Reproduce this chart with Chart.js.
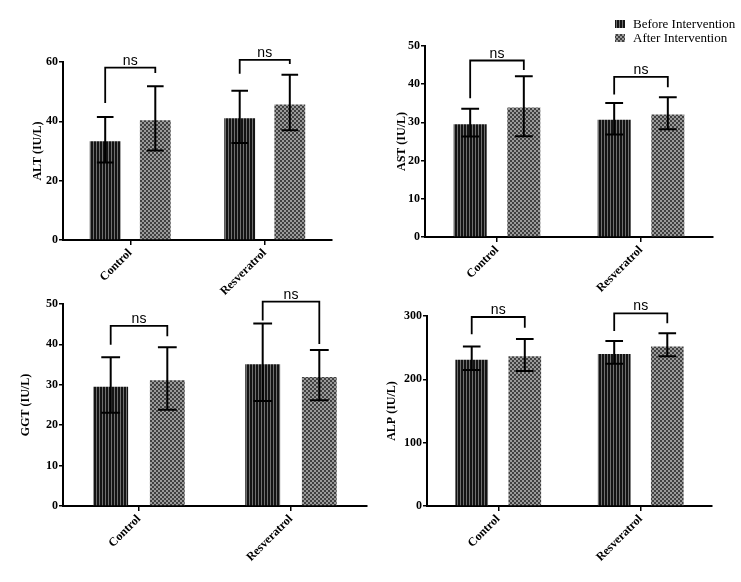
<!DOCTYPE html>
<html><head><meta charset="utf-8">
<script src="https://cdn.jsdelivr.net/npm/chart.js@4.4.0/dist/chart.umd.min.js"></script>
<style>
html,body{margin:0;padding:0;background:#fff;}
#wrap{position:relative;width:741px;height:582px;overflow:hidden;}
.box{position:absolute;}
</style>
</head><body><div id="wrap">
<div class="box" style="left:0;top:0;width:370px;height:320px"><canvas id="c1"></canvas></div>
<div class="box" style="left:370px;top:0;width:371px;height:320px"><canvas id="c2"></canvas></div>
<div class="box" style="left:0;top:290px;width:370px;height:292px"><canvas id="c3"></canvas></div>
<div class="box" style="left:370px;top:290px;width:371px;height:292px"><canvas id="c4"></canvas></div>
</div>
<script>
// ---------- data ----------
const categories = ['Control', 'Resveratrol'];
const seriesNames = ['Before Intervention', 'After Intervention'];
const sigLabel = 'ns';

// ALT
const altBefore = [33.3, 41.0];
const altBeforeHigh = [41.5, 50.3];
const altBeforeLow = [26.1, 32.7];
const altAfter = [40.4, 45.7];
const altAfterHigh = [51.8, 55.7];
const altAfterLow = [30.2, 37.0];
const altBracketTop = [58.1, 60.7];
const altBracketLeft = [46.2, 56.0];
const altBracketRight = [56.3, 59.3];
const altTicks = [0, 20, 40, 60];

// AST
const astBefore = [29.5, 30.7];
const astBeforeHigh = [33.6, 35.1];
const astBeforeLow = [26.3, 26.8];
const astAfter = [33.9, 32.1];
const astAfterHigh = [42.1, 36.6];
const astAfterLow = [26.4, 28.2];
const astBracketTop = [46.2, 41.9];
const astBracketLeft = [36.3, 37.3];
const astBracketRight = [43.7, 39.2];
const astTicks = [0, 10, 20, 30, 40, 50];

// GGT
const ggtBefore = [29.5, 35.1];
const ggtBeforeHigh = [36.8, 45.2];
const ggtBeforeLow = [23.1, 26.0];
const ggtAfter = [31.1, 31.9];
const ggtAfterHigh = [39.3, 38.6];
const ggtAfterLow = [23.8, 26.2];
const ggtBracketTop = [44.6, 50.6];
const ggtBracketLeft = [39.9, 45.9];
const ggtBracketRight = [42.0, 40.1];
const ggtTicks = [0, 10, 20, 30, 40, 50];

// ALP
const alpBefore = [230.9, 239.9];
const alpBeforeHigh = [252.0, 260.5];
const alpBeforeLow = [214.6, 224.6];
const alpAfter = [236.3, 252.0];
const alpAfterHigh = [263.6, 272.6];
const alpAfterLow = [213.0, 236.3];
const alpBracketTop = [298.4, 304.3];
const alpBracketLeft = [271.0, 276.3];
const alpBracketRight = [281.5, 288.5];
const alpTicks = [0, 100, 200, 300];

// ---------- patterns ----------
function makePattern(draw, w, h) {
  const c = document.createElement('canvas');
  c.width = w; c.height = h;
  draw(c.getContext('2d'));
  return c.getContext('2d').createPattern(c, 'repeat');
}
const stripePattern = makePattern(ctx => {
  ctx.fillStyle = '#141414'; ctx.fillRect(0, 0, 3, 3);
  ctx.fillStyle = '#707070'; ctx.fillRect(0, 0, 1, 3);
}, 3, 3);
const checkPattern = makePattern(ctx => {
  ctx.fillStyle = '#9a9a9a'; ctx.fillRect(0, 0, 4, 4);
  ctx.fillStyle = '#404040'; ctx.fillRect(0, 0, 2, 2); ctx.fillRect(2, 2, 2, 2);
}, 4, 4);

// ---------- plugins ----------
const errorBars = {
  id: 'errorBars',
  afterDatasetsDraw(chart, args, opts) {
    const ctx = chart.ctx, ys = chart.scales.y;
    ctx.save();
    ctx.strokeStyle = '#000'; ctx.lineWidth = 2;
    chart.data.datasets.forEach((ds, di) => {
      const meta = chart.getDatasetMeta(di);
      meta.data.forEach((bar, i) => {
        const hi = ys.getPixelForValue(ds.errHigh[i]);
        const lo = ys.getPixelForValue(ds.errLow[i]);
        const cap = bar.width * 0.27;
        ctx.beginPath();
        ctx.moveTo(bar.x, hi); ctx.lineTo(bar.x, lo);
        ctx.moveTo(bar.x - cap, hi); ctx.lineTo(bar.x + cap, hi);
        ctx.moveTo(bar.x - cap, lo); ctx.lineTo(bar.x + cap, lo);
        ctx.stroke();
      });
    });
    ctx.restore();
  }
};

const brackets = {
  id: 'brackets',
  afterDraw(chart, args, opts) {
    if (!opts.top) return;
    const ctx = chart.ctx, ys = chart.scales.y;
    const m0 = chart.getDatasetMeta(0), m1 = chart.getDatasetMeta(1);
    ctx.save();
    ctx.strokeStyle = '#000'; ctx.lineWidth = 1.8; ctx.fillStyle = '#000';
    ctx.font = '14px "Liberation Sans", Arial, sans-serif';
    ctx.textAlign = 'center'; ctx.textBaseline = 'alphabetic';
    opts.top.forEach((t, i) => {
      const x1 = m0.data[i].x, x2 = m1.data[i].x;
      const yt = ys.getPixelForValue(t);
      const yl = ys.getPixelForValue(opts.left[i]);
      const yr = ys.getPixelForValue(opts.right[i]);
      ctx.beginPath();
      ctx.moveTo(x1, yl); ctx.lineTo(x1, yt); ctx.lineTo(x2, yt); ctx.lineTo(x2, yr);
      ctx.stroke();
      ctx.fillText(opts.label, (x1 + x2) / 2, yt - 3);
    });
    ctx.restore();
  }
};

const boxLegend = {
  id: 'boxLegend',
  afterDraw(chart, args, opts) {
    if (!opts.show) return;
    const ctx = chart.ctx;
    ctx.save();
    ctx.font = '13px "Liberation Serif", "Times New Roman", serif';
    ctx.textBaseline = 'middle'; ctx.textAlign = 'left';
    chart.data.datasets.forEach((ds, i) => {
      const y = opts.y + i * opts.rowGap;
      ctx.fillStyle = ds.backgroundColor;
      ctx.fillRect(opts.x, y - 4, 10, 8);
      ctx.fillStyle = '#000';
      ctx.fillText(ds.label, opts.x + 18, y + 1);
    });
    ctx.restore();
  }
};

// ---------- chart builder ----------
const tickFont = {family: '"Liberation Serif", "Times New Roman", serif', size: 12, weight: 'bold'};

function makeChart(id, title, before, bHi, bLo, after, aHi, aLo, ticks, bTop, bLeft, bRight, pad, yWidth, legend) {
  const yMax = ticks[ticks.length - 1];
  const step = ticks[1] - ticks[0];
  return new Chart(document.getElementById(id), {
    type: 'bar',
    data: {
      labels: categories,
      datasets: [
        {label: seriesNames[0], data: before, errHigh: bHi, errLow: bLo, backgroundColor: stripePattern, borderWidth: 0},
        {label: seriesNames[1], data: after, errHigh: aHi, errLow: aLo, backgroundColor: checkPattern, borderWidth: 0}
      ]
    },
    options: {
      responsive: true, maintainAspectRatio: false, animation: false,
      categoryPercentage: 0.745, barPercentage: 0.615,
      layout: {padding: pad},
      plugins: {
        legend: {display: false}, tooltip: {enabled: false},
        brackets: {top: bTop, left: bLeft, right: bRight, label: sigLabel},
        boxLegend: legend || {show: false}
      },
      scales: {
        x: {
          grid: {display: true, drawOnChartArea: false, offset: false, drawTicks: true, tickLength: 5, color: '#000', lineWidth: 1.5},
          border: {display: true, color: '#000', width: 2},
          ticks: {color: '#000', font: tickFont, maxRotation: 45, minRotation: 45, padding: 1},
          afterFit(s) { s.height = 75; }
        },
        y: {
          min: 0, max: yMax,
          grid: {display: true, drawOnChartArea: false, drawTicks: true, tickLength: 4, color: '#000', lineWidth: 1.5},
          border: {display: true, color: '#000', width: 2},
          ticks: {color: '#000', font: tickFont, stepSize: step, padding: 1},
          title: {display: true, text: title, color: '#000', font: tickFont, padding: 0},
          afterFit(s) { s.width = yWidth; }
        }
      }
    },
    plugins: [errorBars, brackets, boxLegend]
  });
}

makeChart('c1', 'ALT (IU/L)', altBefore, altBeforeHigh, altBeforeLow, altAfter, altAfterHigh, altAfterLow,
  altTicks, altBracketTop, altBracketLeft, altBracketRight, {left: 31, top: 62, right: 38, bottom: 5}, 32);
makeChart('c2', 'AST (IU/L)', astBefore, astBeforeHigh, astBeforeLow, astAfter, astAfterHigh, astAfterLow,
  astTicks, astBracketTop, astBracketLeft, astBracketRight, {left: 25, top: 46, right: 28, bottom: 8}, 30,
  {show: true, x: 245, y: 24, rowGap: 14});
makeChart('c3', 'GGT (IU/L)', ggtBefore, ggtBeforeHigh, ggtBeforeLow, ggtAfter, ggtAfterHigh, ggtAfterLow,
  ggtTicks, ggtBracketTop, ggtBracketLeft, ggtBracketRight, {left: 19, top: 14, right: 3, bottom: 1}, 44);
makeChart('c4', 'ALP (IU/L)', alpBefore, alpBeforeHigh, alpBeforeLow, alpAfter, alpAfterHigh, alpAfterLow,
  alpTicks, alpBracketTop, alpBracketLeft, alpBracketRight, {left: 15, top: 26, right: 29, bottom: 1}, 42);
</script>
</body></html>
